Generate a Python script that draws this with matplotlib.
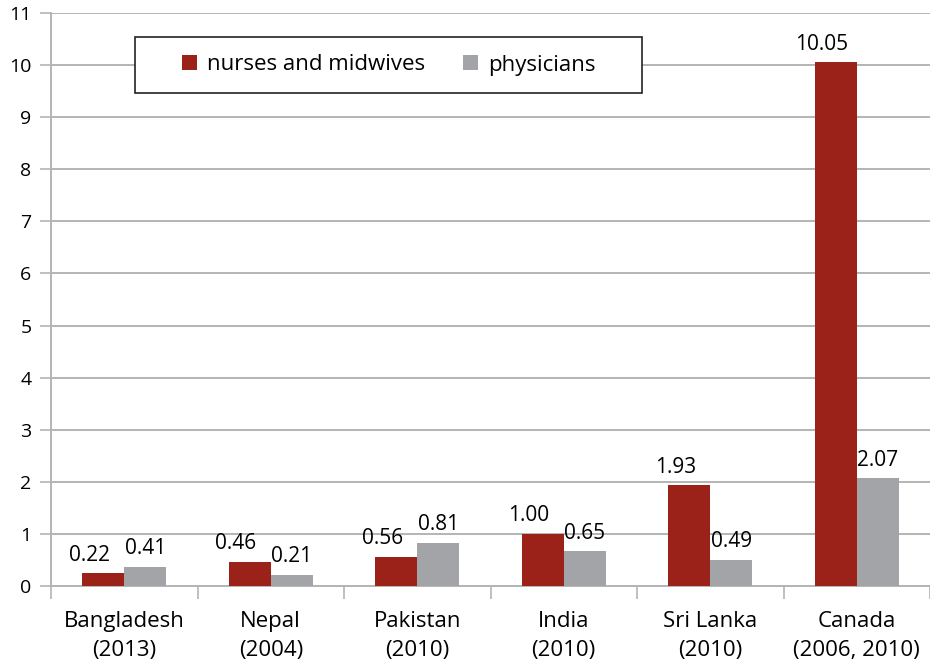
import numpy as np
import matplotlib.pyplot as plt
from matplotlib.patches import Rectangle
from matplotlib.ticker import FixedLocator

countries = ["Bangladesh\n(2013)", "Nepal\n(2004)", "Pakistan\n(2010)",
             "India\n(2010)", "Sri Lanka\n(2010)", "Canada\n(2006, 2010)"]
nurses = [0.24, 0.46, 0.56, 1.00, 1.93, 10.05]
physicians = [0.37, 0.22, 0.83, 0.67, 0.50, 2.07]
nurse_labels = ["0.22", "0.46", "0.56", "1.00", "1.93", "10.05"]
phys_labels = ["0.41", "0.21", "0.81", "0.65", "0.49", "2.07"]

red = "#9b2219"
grey = "#a3a4a8"
grid_c = "#b4b4b4"

plt.rcParams["font.family"] = ["Open Sans", "DejaVu Sans"]

fig = plt.figure(figsize=(9.3, 6.68), dpi=100)
ax = fig.add_axes([51 / 930, 82 / 668, 879 / 930, 573 / 668])

x = np.arange(len(countries))
w = 0.287
ax.bar(x - w / 2, nurses, w, color=red, label="nurses and midwives", zorder=3)
ax.bar(x + w / 2, physicians, w, color=grey, label="physicians", zorder=3)

for i in range(len(countries)):
    ax.annotate(nurse_labels[i], (x[i] - w / 2, nurses[i]), xytext=(-10, 13),
                textcoords="offset points", ha="center", va="center", fontsize=15)
    ax.annotate(phys_labels[i], (x[i] + w / 2, physicians[i]), xytext=(0, 13),
                textcoords="offset points", ha="center", va="center", fontsize=15)

ax.set_xlim(-0.5, 5.5)
ax.set_ylim(0, 11)
ax.set_yticks(range(0, 12))
ax.yaxis.grid(True, color=grid_c, linewidth=1.4, zorder=0)
ax.set_axisbelow(True)

ax.set_xticks(x)
ax.set_xticklabels(countries, fontsize=16, linespacing=1.5)
ax.tick_params(axis="x", which="major", length=0, pad=18)
ax.xaxis.set_minor_locator(FixedLocator(np.arange(-0.5, 6, 1.0)))
ax.tick_params(axis="x", which="minor", length=9, color=grid_c, width=1.2)
ax.tick_params(axis="y", length=8, color=grid_c, width=1.2, labelsize=14, pad=6)

for s in ["top", "right"]:
    ax.spines[s].set_visible(False)
for s in ["left", "bottom"]:
    ax.spines[s].set_color(grid_c)
    ax.spines[s].set_linewidth(1.4)

# legend box drawn separately so its padding matches the original
ax.add_patch(Rectangle((135 / 930, 1 - 93 / 668), 507 / 930, 56 / 668,
                       transform=fig.transFigure, facecolor="white",
                       edgecolor="#222222", linewidth=1.2, zorder=4,
                       clip_on=False))
leg = ax.legend(ncol=2, loc="center", bbox_to_anchor=(388.5 / 930, 1 - 65 / 668),
                bbox_transform=fig.transFigure, frameon=False, fontsize=16,
                handlelength=0.68, handleheight=0.68, columnspacing=1.7,
                handletextpad=0.45, borderpad=0, borderaxespad=0)
leg.set_zorder(5)

fig.savefig("out.png", dpi=100)
